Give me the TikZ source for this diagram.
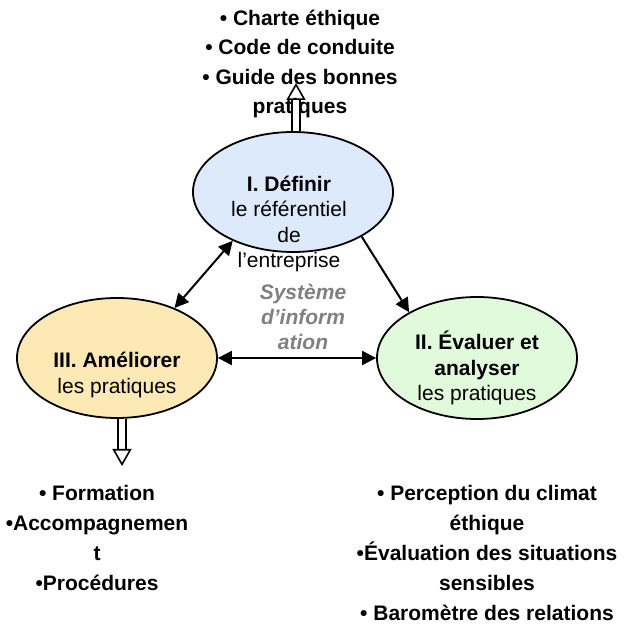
\documentclass[tikz,border=0pt]{standalone}
\usepackage{fontspec}
\setmainfont{Liberation Sans}
\usetikzlibrary{arrows.meta,shapes.geometric}
\definecolor{bleudef}{RGB}{220,234,251}
\definecolor{vertval}{RGB}{226,250,220}
\definecolor{jauneam}{RGB}{253,233,180}
\definecolor{grissi}{RGB}{128,128,128}

\begin{document}
\begin{tikzpicture}[x=0.5pt,y=-0.5pt,
  etape/.style={ellipse,draw,line width=0.9pt,inner sep=0pt,minimum width=100pt,minimum height=60pt},
  texte/.style={align=center,font=\fontsize{10.5}{12.7}\selectfont},
  liste/.style={align=center,font=\fontsize{10.5}{15.1}\selectfont\bfseries},
  lien/.style={line width=1pt},
  pleine/.tip={Triangle[length=7pt,width=7pt]},
  creuse/.style={double,double distance=3pt,line width=0.8pt,-{Triangle[open,length=8.5pt,width=9.5pt]}}]
\useasboundingbox (0,0) rectangle (626,624);
% Draw the three steps
\node[etape,fill=bleudef] (defin) at (293,192) {};
\node[etape,fill=jauneam] (amel) at (117,358) {};
\node[etape,fill=vertval,minimum height=61pt] (evalu) at (477,358) {};
\node[texte] (defintxt) at (289,224) {\textbf{I. Définir}\\le référentiel\\de\\l’entreprise};
\node[texte] (ameltxt) at (117,375) {\textbf{III. Améliorer}\\les pratiques};
\node[texte] (evalutxt) at (477,368) {\textbf{II. Évaluer et}\\\textbf{analyser}\\les pratiques};
% The information system in the middle
\node[texte,text=grissi,font=\fontsize{10.5}{12.5}\selectfont\bfseries\itshape] (si) at (303,317) {Système\\d’inform\\ation};
% Draw the lists of tools
\node[liste,font=\fontsize{10.5}{14.8}\selectfont\bfseries] (outils1) at (300,64) {• Charte éthique\\• Code de conduite\\• Guide des bonnes\\pratiques};
\node[liste] (outils3) at (97,538) {• Formation\\•Accompagnemen\\t\\•Procédures};
\node[liste] (outils2) at (487,553) {• Perception du climat\\éthique\\•Évaluation des situations\\sensibles\\• Baromètre des relations};
% Draw the links between the steps
\draw[lien,pleine-pleine] (defin.219) -- (amel.41);
\draw[lien,-pleine] (defin.-33) -- (evalu.146);
\draw[lien,pleine-pleine] (amel.east) -- (evalu.west);
% Draw the hollow arrows towards the lists
\coordinate (pointe1) at (296,83);
\coordinate (pointe3) at (122,466);
\draw[creuse] (defin.north -| pointe1) -- (pointe1);
\draw[creuse] (amel.south -| pointe3) -- (pointe3);
\end{tikzpicture}
\end{document}
